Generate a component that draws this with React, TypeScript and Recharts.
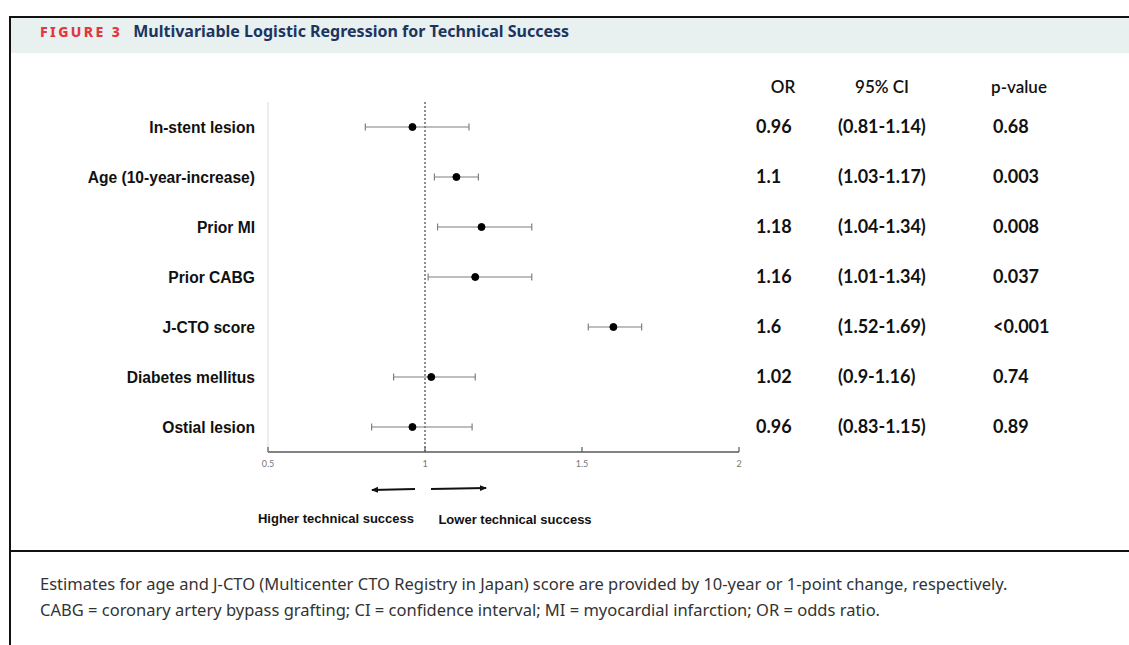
import React from 'react';
import {
  ComposedChart,
  Line,
  ErrorBar,
  XAxis,
  YAxis,
  ReferenceLine,
} from 'recharts';

const labels = [
  'In-stent lesion',
  'Age (10-year-increase)',
  'Prior MI',
  'Prior CABG',
  'J-CTO score',
  'Diabetes mellitus',
  'Ostial lesion',
];
const oddsRatio = [0.96, 1.1, 1.18, 1.16, 1.6, 1.02, 0.96];
const ciLow = [0.81, 1.03, 1.04, 1.01, 1.52, 0.9, 0.83];
const ciHigh = [1.14, 1.17, 1.34, 1.34, 1.69, 1.16, 1.15];
const orText = ['0.96', '1.1', '1.18', '1.16', '1.6', '1.02', '0.96'];
const ciText = ['(0.81-1.14)', '(1.03-1.17)', '(1.04-1.34)', '(1.01-1.34)', '(1.52-1.69)', '(0.9-1.16)', '(0.83-1.15)'];
const pText = ['0.68', '0.003', '0.008', '0.037', '<0.001', '0.74', '0.89'];
const xTicks = [0.5, 1, 1.5, 2];

const rows = labels.map((name, i) => ({
  name,
  or: oddsRatio[i],
  err: [oddsRatio[i] - ciLow[i], ciHigh[i] - oddsRatio[i]],
}));

const tableFont = 'Lato, "Open Sans", sans-serif';
const labelFont = '"Liberation Sans", Arial, sans-serif';

const XTick = (props: any) => {
  const { x, y, payload } = props;
  return (
    <g>
      <line x1={x} x2={x} y1={y - 5} y2={y} stroke="#595959" strokeWidth={1.2} />
      <text x={x} y={y + 15} textAnchor="middle" fontSize={9} fill="#777" fontFamily={tableFont}>
        {payload.value}
      </text>
    </g>
  );
};

const TableTick = (props: any) => {
  const { x, y, index } = props;
  const style = { fontFamily: tableFont, fontWeight: 700, fontSize: 18, fill: '#111' };
  return (
    <g>
      {index === 0 && (
        <g>
          <text x={x + 44} y={y - 40} dy={6} textAnchor="middle" {...style} fontSize={17} fontWeight={600}>OR</text>
          <text x={x + 143} y={y - 40} dy={6} textAnchor="middle" {...style} fontSize={17} fontWeight={600}>95% CI</text>
          <text x={x + 280} y={y - 40} dy={6} textAnchor="middle" {...style} fontSize={17} fontWeight={600}>p-value</text>
        </g>
      )}
      <text x={x + 17} y={y} dy={6} {...style}>{orText[index]}</text>
      <text x={x + 99} y={y} dy={6} {...style}>{ciText[index]}</text>
      <text x={x + 254} y={y} dy={6} {...style}>{pText[index]}</text>
    </g>
  );
};

export default function App() {
  return (
    <div
      style={{
        position: 'absolute',
        left: 0,
        top: 0,
        width: 1129,
        height: 645,
        overflow: 'hidden',
        background: '#fff',
      }}
    >
      {/* frame */}
      <div style={{ position: 'absolute', left: 9, top: 16, width: 1120, height: 2, background: '#111' }} />
      <div style={{ position: 'absolute', left: 9, top: 16, width: 2, height: 629, background: '#111' }} />
      <div style={{ position: 'absolute', left: 11, top: 18, width: 1118, height: 35, background: '#e8f0f0' }} />
      <div style={{ position: 'absolute', left: 9, top: 550, width: 1120, height: 2, background: '#111' }} />

      <div
        style={{
          position: 'absolute',
          left: 40,
          top: 20,
          lineHeight: '22px',
          fontFamily: '"Noto Sans", sans-serif',
          whiteSpace: 'nowrap',
        }}
      >
        <span style={{ color: '#e2373f', fontWeight: 800, fontSize: 14, letterSpacing: 2.4 }}>FIGURE 3</span>
        <span style={{ color: '#1b3560', fontWeight: 700, fontSize: 16, marginLeft: 11 }}>
          Multivariable Logistic Regression for Technical Success
        </span>
      </div>

      <ComposedChart
        width={1129}
        height={645}
        layout="vertical"
        data={rows}
        margin={{ top: 102, right: 0, bottom: 163, left: 0 }}
        style={{ position: 'absolute', left: 0, top: 0 }}
      >
        <XAxis
          type="number"
          domain={[0.5, 2]}
          ticks={xTicks}
          allowDataOverflow
          height={30}
          axisLine={{ stroke: '#595959', strokeWidth: 1.5 }}
          tickLine={false}
          tickSize={0}
          tickMargin={0}
          tick={<XTick />}
        />
        <YAxis
          type="category"
          dataKey="name"
          width={268}
          padding={{ top: 25, bottom: 25 }}
          axisLine={{ stroke: '#d9d9d9' }}
          tickLine={false}
          tickSize={0}
          tickMargin={13}
          tick={{ fontFamily: labelFont, fontWeight: 700, fontSize: 15.6, fill: '#111' }}
        />
        <YAxis
          yAxisId="table"
          orientation="right"
          type="category"
          dataKey="name"
          width={390}
          padding={{ top: 25, bottom: 25 }}
          axisLine={false}
          tickLine={false}
          tickSize={0}
          tickMargin={0}
          tick={<TableTick />}
        />
        <ReferenceLine x={1} stroke="#444" strokeDasharray="2 2" strokeWidth={1.2} />
        <Line
          dataKey="or"
          stroke="none"
          isAnimationActive={false}
          dot={{ r: 3.5, fill: '#000', stroke: '#000', strokeWidth: 1 }}
          activeDot={false}
        >
          <ErrorBar dataKey="err" direction="x" width={3.5} stroke="#7f7f7f" strokeWidth={1.2} />
        </Line>
        <Line yAxisId="table" dataKey="or" stroke="none" dot={false} activeDot={false} isAnimationActive={false} />
      </ComposedChart>

      {/* direction arrows */}
      <svg width={1129} height={645} style={{ position: 'absolute', left: 0, top: 0, pointerEvents: 'none' }}>
        <defs>
          <marker id="ah" markerWidth="8" markerHeight="8" refX="6" refY="4" orient="auto" markerUnits="userSpaceOnUse">
            <path d="M0,1 L7,4 L0,7 Z" fill="#111" />
          </marker>
        </defs>
        <line x1={415} y1={489} x2={372} y2={490} stroke="#111" strokeWidth={2} markerEnd="url(#ah)" />
        <line x1={431} y1={489} x2={486} y2={488} stroke="#111" strokeWidth={2} markerEnd="url(#ah)" />
        <text x={336} y={523} textAnchor="middle" fontFamily={labelFont} fontWeight={700} fontSize={13} fill="#111">
          Higher technical success
        </text>
        <text x={515} y={524} textAnchor="middle" fontFamily={labelFont} fontWeight={700} fontSize={13} fill="#111">
          Lower technical success
        </text>
      </svg>

      <div
        style={{
          position: 'absolute',
          left: 40,
          top: 571,
          fontFamily: '"Noto Sans", sans-serif',
          fontSize: 16.5,
          lineHeight: '26px',
          color: '#333',
          whiteSpace: 'nowrap',
        }}
      >
        <div>Estimates for age and J-CTO (Multicenter CTO Registry in Japan) score are provided by 10-year or 1-point change, respectively.</div>
        <div>CABG = coronary artery bypass grafting; CI = confidence interval; MI = myocardial infarction; OR = odds ratio.</div>
      </div>
    </div>
  );
}
